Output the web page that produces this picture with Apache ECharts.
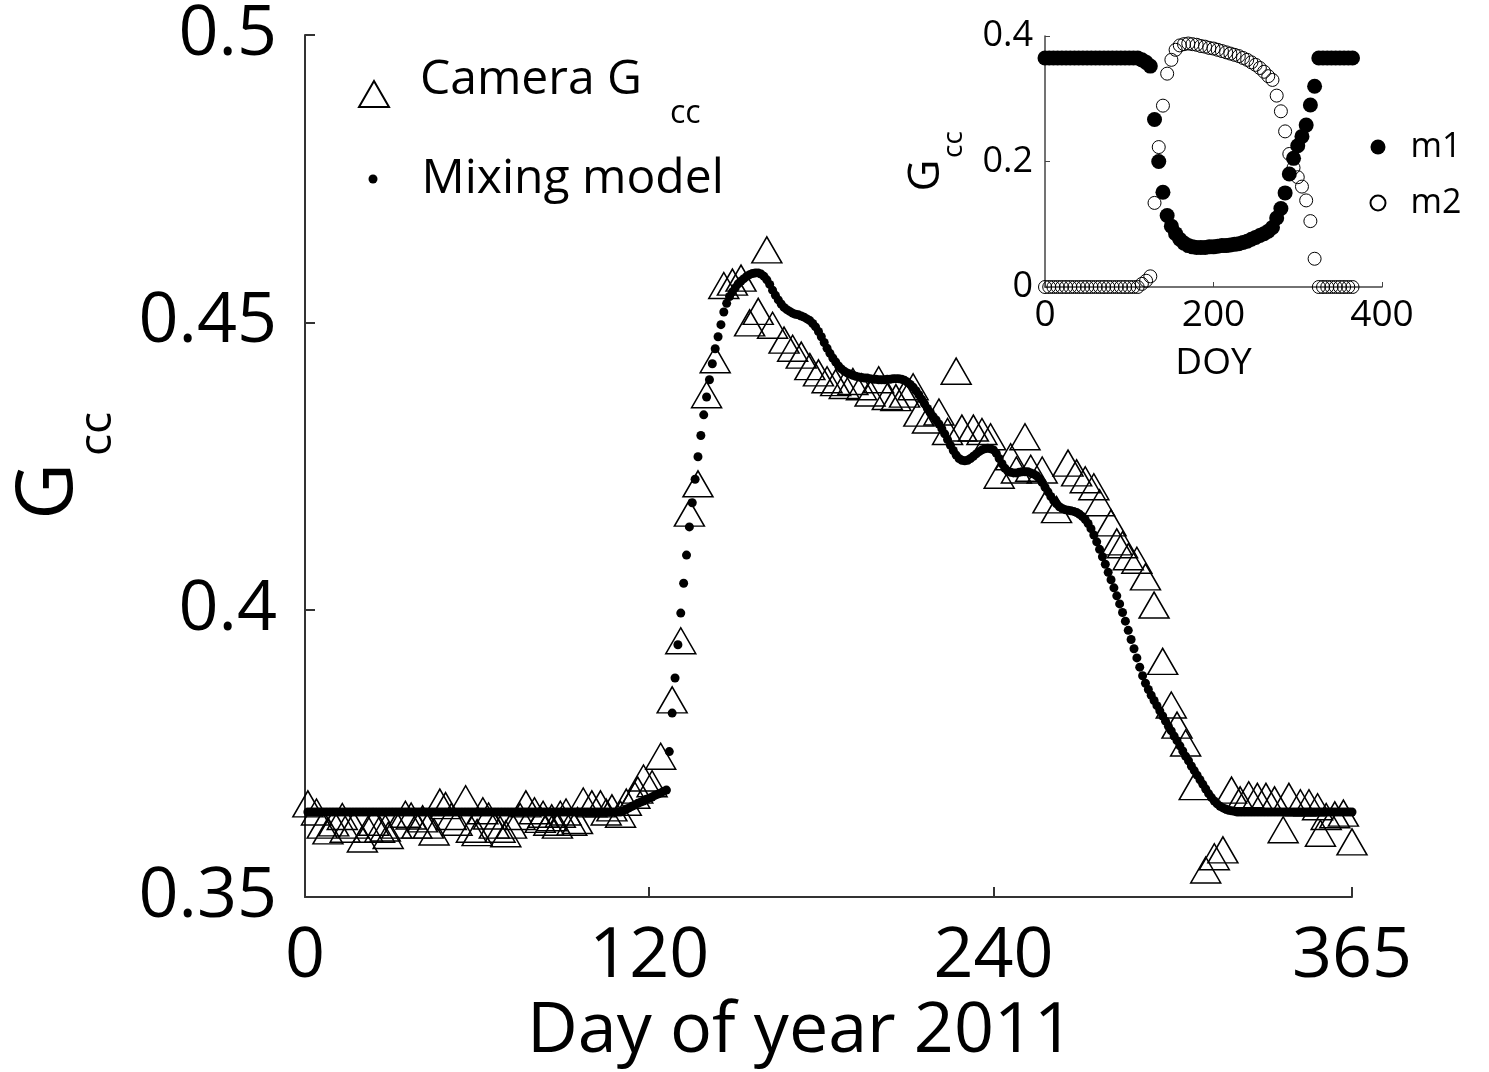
<!DOCTYPE html>
<html><head><meta charset="utf-8">
<script src="https://cdn.jsdelivr.net/npm/echarts@6/dist/echarts.min.js"></script>
<style>html,body{margin:0;padding:0;background:#fff}#c{width:1489px;height:1072px}</style>
</head><body><div id="c"></div>
<script>
const xTicks = [0, 120, 240, 365];
const yTicks = [0.35, 0.4, 0.45, 0.5];
const insetXTicks = [0, 200, 400];
const insetYTicks = [0, 0.2, 0.4];

const cameraDoy = [1,4,6,8,10,13,14,17,20,22,24,26,28,29,32,35,37,39,41,43,45,47,49,51,53,56,58,60,62,64,66,68,70,72,75,77,80,82,83,85,86,88,89,91,93,95,97,100,103,105,107,110,112,115,116,118,121,124,128,131,134,137,140,143,146,149,152,155,158,161,163,167,170,173,176,179,182,185,188,191,194,197,200,203,206,209,212,214,217,221,224,227,229,233,236,239,242,246,248,251,253,257,259,262,266,269,272,275,277,281,283,285,287,290,293,296,299,302,304,307,310,314,317,320,323,326,329,332,335,338,341,343,347,350,353,354,356,359,362,365];
const cameraGcc = [0.3662,0.3648,0.3625,0.3615,0.3629,0.3640,0.3618,0.3625,0.3601,0.3618,0.3630,0.3618,0.3620,0.3607,0.3625,0.3644,0.3641,0.3625,0.3636,0.3625,0.3613,0.3665,0.3659,0.3640,0.3630,0.3671,0.3618,0.3612,0.3650,0.3641,0.3625,0.3618,0.3610,0.3625,0.3640,0.3662,0.3650,0.3635,0.3644,0.3630,0.3638,0.3625,0.3644,0.3648,0.3630,0.3633,0.3667,0.3662,0.3662,0.3648,0.3655,0.3644,0.3665,0.3677,0.3686,0.3707,0.3697,0.3745,0.3843,0.3946,0.4168,0.4219,0.4374,0.4435,0.4564,0.4570,0.4577,0.4499,0.4519,0.4626,0.4495,0.4469,0.4455,0.4443,0.4423,0.4412,0.4400,0.4395,0.4390,0.4397,0.4388,0.4377,0.4400,0.4371,0.4369,0.4375,0.4388,0.4342,0.4330,0.4344,0.4310,0.4415,0.4316,0.4316,0.4310,0.4301,0.4234,0.4266,0.4243,0.4301,0.4246,0.4243,0.4191,0.4174,0.4255,0.4238,0.4226,0.4214,0.4186,0.4151,0.4118,0.4113,0.4092,0.4086,0.4057,0.4008,0.3910,0.3834,0.3799,0.3768,0.3692,0.3547,0.3570,0.3582,0.3686,0.3669,0.3678,0.3675,0.3675,0.3669,0.3617,0.3675,0.3664,0.3664,0.3657,0.3611,0.3640,0.3643,0.3646,0.3596];

// Mixing model, one value per day, day 1 .. 365
const modelGcc = [
0.3648,0.3648,0.3648,0.3648,0.3648,0.3648,0.3648,0.3648,0.3648,0.3648,
0.3648,0.3648,0.3648,0.3648,0.3648,0.3648,0.3648,0.3648,0.3648,0.3648,
0.3648,0.3648,0.3648,0.3648,0.3648,0.3648,0.3648,0.3648,0.3648,0.3648,
0.3648,0.3648,0.3648,0.3648,0.3648,0.3648,0.3648,0.3648,0.3648,0.3648,
0.3648,0.3648,0.3648,0.3648,0.3648,0.3648,0.3648,0.3648,0.3648,0.3648,
0.3648,0.3648,0.3648,0.3648,0.3648,0.3648,0.3648,0.3648,0.3648,0.3648,
0.3648,0.3648,0.3648,0.3648,0.3648,0.3648,0.3648,0.3648,0.3648,0.3648,
0.3648,0.3648,0.3648,0.3648,0.3648,0.3648,0.3648,0.3648,0.3648,0.3648,
0.3648,0.3648,0.3648,0.3648,0.3648,0.3648,0.3648,0.3648,0.3648,0.3648,
0.3648,0.3648,0.3648,0.3648,0.3648,0.3648,0.3648,0.3648,0.3648,0.3648,
0.3648,0.3648,0.3648,0.3648,0.3648,0.3648,0.3648,0.3648,0.3648,
0.3648,0.3650,0.3653,0.3655,0.3658,0.3660,0.3663,0.3665,0.3667,0.3670,
0.3672,0.3674,0.3677,0.3679,0.3681,0.3684,0.3686,0.3753,0.3820,0.3881,
0.3939,0.3994,0.4046,0.4095,0.4144,0.4186,0.4227,0.4266,0.4303,0.4339,
0.4370,0.4400,0.4428,0.4454,0.4475,0.4496,0.4518,0.4533,0.4545,0.4553,
0.4560,0.4567,0.4572,0.4576,0.4580,0.4583,0.4585,0.4586,0.4586,0.4584,
0.4580,0.4574,0.4566,0.4556,0.4547,0.4539,0.4532,0.4526,0.4522,0.4519,
0.4516,0.4514,0.4513,0.4511,0.4509,0.4506,0.4503,0.4498,0.4492,0.4484,
0.4475,0.4465,0.4455,0.4446,0.4438,0.4431,0.4424,0.4419,0.4415,0.4412,
0.4410,0.4408,0.4406,0.4405,0.4404,0.4403,0.4403,0.4402,0.4401,0.4401,
0.4400,0.4400,0.4400,0.4401,0.4401,0.4402,0.4402,0.4402,0.4401,0.4399,
0.4396,0.4392,0.4387,0.4381,0.4374,0.4366,0.4358,0.4350,0.4343,0.4336,
0.4330,0.4323,0.4315,0.4306,0.4296,0.4286,0.4277,0.4269,0.4263,0.4260,
0.4259,0.4260,0.4263,0.4267,0.4271,0.4275,0.4278,0.4280,0.4281,0.4280,
0.4278,0.4272,0.4263,0.4254,0.4246,0.4241,0.4239,0.4238,0.4238,0.4239,
0.4240,0.4240,0.4240,0.4238,0.4236,0.4233,0.4228,0.4221,0.4213,0.4205,
0.4197,0.4190,0.4184,0.4179,0.4176,0.4174,0.4173,0.4172,0.4171,0.4169,
0.4166,0.4162,0.4157,0.4150,0.4141,0.4130,0.4118,0.4105,0.4092,0.4079,
0.4065,0.4052,0.4038,0.4024,0.4010,0.3995,0.3980,0.3964,0.3948,0.3932,
0.3916,0.3900,0.3885,0.3872,0.3861,0.3851,0.3842,0.3833,0.3824,0.3815,
0.3806,0.3797,0.3789,0.3780,0.3772,0.3763,0.3754,0.3745,0.3737,0.3728,
0.3720,0.3712,0.3704,0.3696,0.3688,0.3680,0.3673,0.3667,0.3662,0.3658,
0.3655,0.3653,0.3651,0.3650,0.3649,
0.3648,0.3648,0.3648,0.3648,0.3648,0.3648,0.3648,0.3648,0.3648,0.3648,
0.3648,0.3648,0.3648,0.3648,0.3648,0.3648,0.3648,0.3648,0.3648,0.3648,
0.3648,0.3648,0.3648,0.3648,0.3648,0.3648,0.3648,0.3648,0.3648,0.3648,
0.3648,0.3648,0.3648,0.3648,0.3648,0.3648,0.3648,0.3648,0.3648,0.3648,
0.3648];

// Inset: end-member series sampled every 5 days
const insetDoy = [0,5,10,15,20,25,30,35,40,45,50,55,60,65,70,75,80,85,90,95,100,105,110,115,120,125,130,135,140,145,150,155,160,165,170,175,180,185,190,195,200,205,210,215,220,225,230,235,240,245,250,255,260,265,270,275,280,285,290,295,300,305,310,315,320,325,330,335,340,345,350,355,360,365];
const m1 = [0.365,0.365,0.365,0.365,0.365,0.365,0.365,0.365,0.365,0.365,0.365,0.365,0.365,0.365,0.365,0.365,0.365,0.365,0.365,0.365,0.365,0.365,0.365,
0.362,0.358,0.352,0.267,0.200,0.151,0.114,0.097,0.085,0.076,0.070,0.066,0.064,0.063,0.063,0.063,0.064,0.064,0.065,0.066,0.066,0.067,0.068,0.069,0.071,0.073,0.076,0.079,0.082,0.085,0.089,0.095,0.110,0.125,0.150,0.180,0.205,0.225,0.240,0.258,0.290,0.320,
0.365,0.365,0.365,0.365,0.365,0.365,0.365,0.365,0.365];
const m2 = [0,0,0,0,0,0,0,0,0,0,0,0,0,0,0,0,0,0,0,0,0,0,0,
0.005,0.010,0.017,0.134,0.223,0.289,0.340,0.362,0.378,0.385,0.387,0.388,0.387,0.386,0.384,0.383,0.381,0.380,0.378,0.376,0.374,0.372,0.370,0.368,0.365,0.362,0.358,0.354,0.349,0.343,0.336,0.330,0.305,0.280,0.248,0.212,0.190,0.175,0.160,0.138,0.105,0.045,
0,0,0,0,0,0,0,0,0];

const FONT = '"Open Sans", "Noto Sans", sans-serif';
const fmt = v => String(Math.round(v * 100) / 100);

const chart = echarts.init(document.getElementById('c'), null, {renderer: 'canvas'});
chart.setOption({
  animation: false,
  backgroundColor: '#fff',
  textStyle: {fontFamily: FONT, color: '#000'},
  grid: [
    {left: 305, top: 35, width: 1047, height: 862, outerBoundsMode: 'none'},
    {left: 1045, top: 36, width: 337, height: 251, outerBoundsMode: 'none'}
  ],
  xAxis: [
    {
      type: 'value', gridIndex: 0, min: 0, max: 365,
      axisLine: {lineStyle: {color: '#333', width: 2}},
      axisTick: {inside: true, length: 10, customValues: xTicks, lineStyle: {color: '#333', width: 2}},
      axisLabel: {customValues: xTicks, fontSize: 70, margin: 25, color: '#000', fontFamily: FONT},
      splitLine: {show: false},
      name: 'Day of year 2011', nameLocation: 'middle', nameGap: 98,
      nameTextStyle: {fontSize: 70, color: '#000', fontFamily: FONT, padding: [0, 56, 0, 0]}
    },
    {
      type: 'value', gridIndex: 1, min: 0, max: 400,
      axisLine: {lineStyle: {color: '#444', width: 1.5}},
      axisTick: {inside: true, length: 5, customValues: insetXTicks, lineStyle: {color: '#444'}},
      axisLabel: {customValues: insetXTicks, fontSize: 37, margin: 10, color: '#000', fontFamily: FONT},
      splitLine: {show: false},
      name: 'DOY', nameLocation: 'middle', nameGap: 58,
      nameTextStyle: {fontSize: 37, color: '#000', fontFamily: FONT}
    }
  ],
  yAxis: [
    {
      type: 'value', gridIndex: 0, min: 0.35, max: 0.5, interval: 0.05,
      axisLine: {show: true, lineStyle: {color: '#333', width: 2}},
      axisTick: {show: true, inside: true, length: 10, customValues: yTicks, lineStyle: {color: '#333', width: 2}},
      axisLabel: {customValues: yTicks, fontSize: 70, margin: 28, color: '#000', fontFamily: FONT, formatter: fmt},
      splitLine: {show: false},
      name: '{a|G}\n{s|cc}', nameLocation: 'middle', nameGap: 187, nameRotate: 90,
      nameTextStyle: {
        fontFamily: FONT,
        rich: {
          a: {fontSize: 78, lineHeight: 56, padding: [0, 51, 0, 0], fontFamily: FONT, color: '#000'},
          s: {fontSize: 46, lineHeight: 40, padding: [0, 0, 0, 64], fontFamily: FONT, color: '#000'}
        }
      }
    },
    {
      type: 'value', gridIndex: 1, min: 0, max: 0.4, interval: 0.2,
      axisLine: {show: true, lineStyle: {color: '#444', width: 1.5}},
      axisTick: {show: true, inside: true, length: 5, customValues: insetYTicks, lineStyle: {color: '#444'}},
      axisLabel: {customValues: insetYTicks, fontSize: 36, margin: 12, color: '#000', fontFamily: FONT, formatter: fmt},
      splitLine: {show: false},
      name: '{a|G}\n{s|cc}', nameLocation: 'middle', nameGap: 80, nameRotate: 90,
      nameTextStyle: {
        fontFamily: FONT,
        rich: {
          a: {fontSize: 44, lineHeight: 34, padding: [0, 28, 0, 0], fontFamily: FONT, color: '#000'},
          s: {fontSize: 28, lineHeight: 22, padding: [0, 0, 0, 34], fontFamily: FONT, color: '#000'}
        }
      }
    }
  ],
  legend: [
    {
      data: ['Camera Gcc'], left: 358, top: 56, padding: 0, itemWidth: 30, itemHeight: 26,
      formatter: () => '{a|Camera G}\n{s|cc}',
      textStyle: {
        fontFamily: FONT,
        rich: {
          a: {fontSize: 48, lineHeight: 40, padding: [0, 0, 0, 26], fontFamily: FONT, color: '#000'},
          s: {fontSize: 32, lineHeight: 28, padding: [0, 0, 0, 276], fontFamily: FONT, color: '#000'}
        }
      }
    },
    {
      data: ['Mixing model'], left: 368.5, top: 155, padding: 0, itemWidth: 9, itemHeight: 9,
      textStyle: {fontSize: 48, fontFamily: FONT, color: '#000', padding: [0, 0, 0, 39]}
    },
    {
      data: ['m1', 'm2'], orient: 'vertical', left: 1369.5, top: 130, padding: 0, itemWidth: 15, itemHeight: 15, itemGap: 22,
      textStyle: {fontSize: 34, fontFamily: FONT, color: '#000', padding: [0, 0, 0, 20]}
    }
  ],
  series: [
    {
      name: 'Camera Gcc', type: 'scatter', xAxisIndex: 0, yAxisIndex: 0, z: 2,
      symbol: 'triangle', symbolSize: [30, 26],
      itemStyle: {color: 'rgba(0,0,0,0)', borderColor: '#000', borderWidth: 1.5, opacity: 1},
      emphasis: {disabled: true},
      data: cameraDoy.map((d, i) => [d, cameraGcc[i]])
    },
    {
      name: 'Mixing model', type: 'scatter', xAxisIndex: 0, yAxisIndex: 0, z: 3,
      symbol: 'circle', symbolSize: 9,
      itemStyle: {color: '#000', opacity: 1},
      emphasis: {disabled: true},
      data: modelGcc.map((v, i) => [i + 1, v])
    },
    {
      name: 'm1', type: 'scatter', xAxisIndex: 1, yAxisIndex: 1, z: 3,
      symbol: 'circle', symbolSize: 15,
      itemStyle: {color: '#000', opacity: 1},
      emphasis: {disabled: true},
      data: insetDoy.map((d, i) => [d, m1[i]])
    },
    {
      name: 'm2', type: 'scatter', xAxisIndex: 1, yAxisIndex: 1, z: 4,
      symbol: 'circle', symbolSize: 13,
      itemStyle: {color: 'rgba(255,255,255,0)', borderColor: '#000', borderWidth: 1, opacity: 1},
      emphasis: {disabled: true},
      data: insetDoy.map((d, i) => [d, m2[i]])
    }
  ]
});
</script>
</body></html>
